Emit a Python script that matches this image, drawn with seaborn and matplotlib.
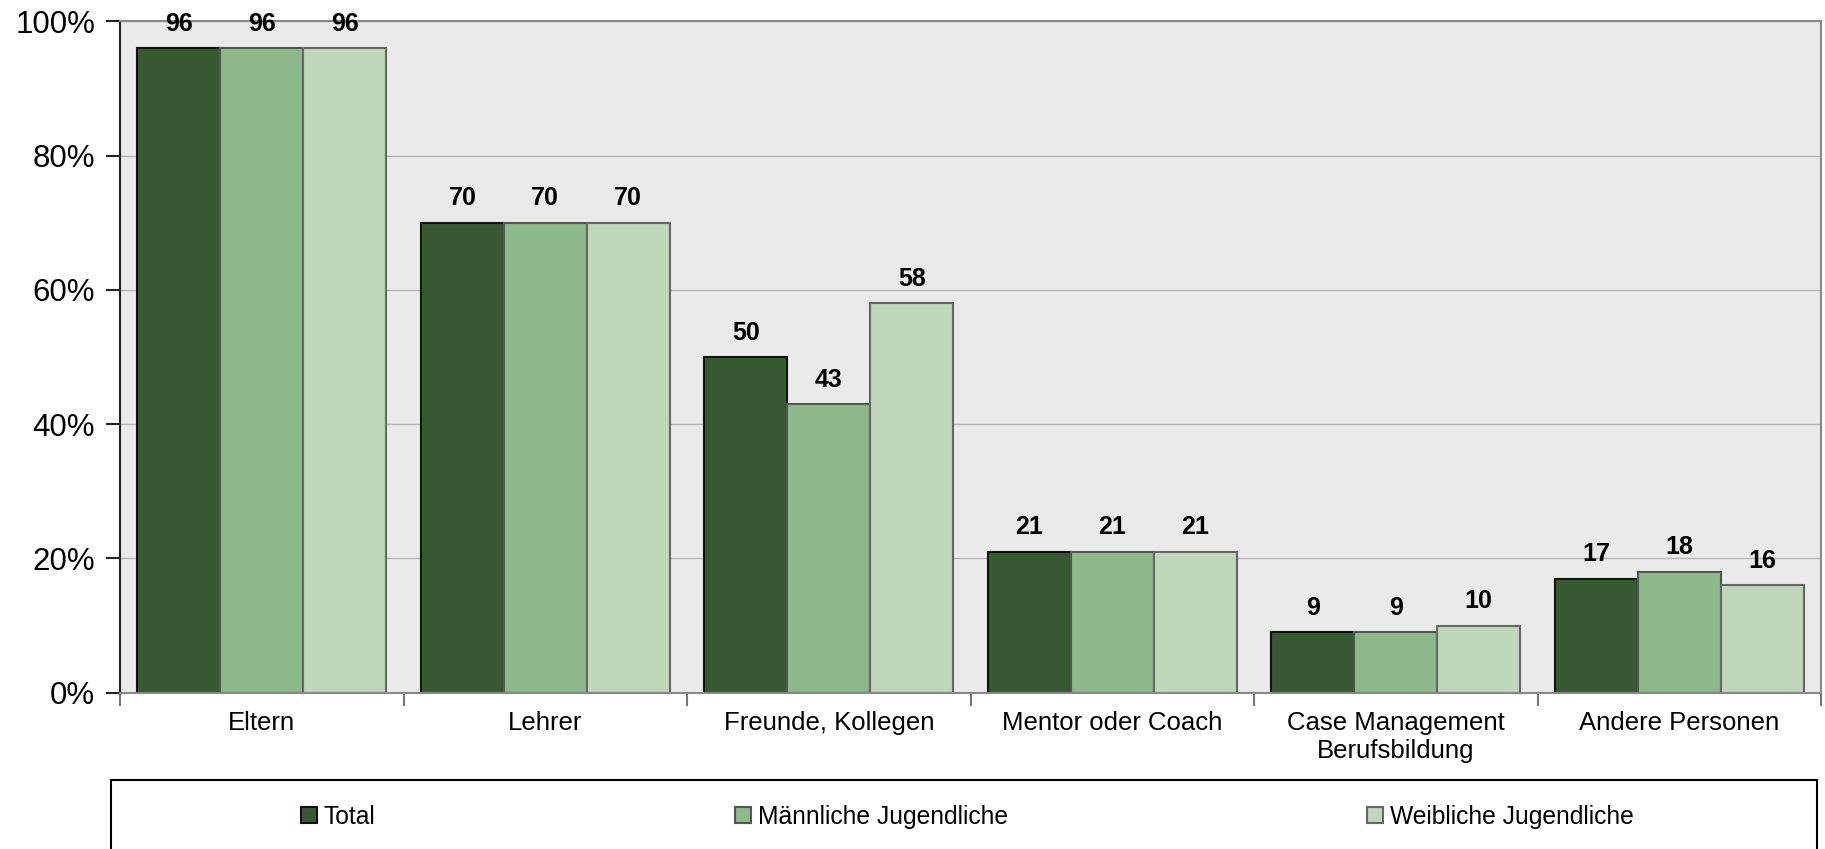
import pandas as pd
import seaborn as sns
import matplotlib.pyplot as plt
from matplotlib.patches import Rectangle
from matplotlib.ticker import FixedLocator

# Daten
kategorien = ['Eltern', 'Lehrer', 'Freunde, Kollegen', 'Mentor oder Coach',
              'Case Management\nBerufsbildung', 'Andere Personen']
gruppen = ['Total', 'Männliche Jugendliche', 'Weibliche Jugendliche']
total = [96, 70, 50, 21, 9, 17]
maennlich = [96, 70, 43, 21, 9, 18]
weiblich = [96, 70, 58, 21, 10, 16]
farben = ['#385a32', '#8db88a', '#bfd6bb']
kanten = ['#111111', '#555555', '#666666']

df = pd.DataFrame({
    'kategorie': kategorien * 3,
    'gruppe': [g for g in gruppen for _ in kategorien],
    'wert': total + maennlich + weiblich,
})

plt.rcParams['font.family'] = ['Liberation Sans', 'DejaVu Sans']

fig = plt.figure(figsize=(18.25, 8.49), dpi=100)
ax = fig.add_axes([0.0658, 0.184, 0.932, 0.791])

sns.barplot(data=df, x='kategorie', y='wert', hue='gruppe', order=kategorien,
            hue_order=gruppen, palette=farben, width=0.878, saturation=1,
            linewidth=1.5, ax=ax, legend=True)

# Kantenfarben pro Gruppe + Beschriftungen
for cont, kante in zip(ax.containers, kanten):
    for bar in cont:
        bar.set_edgecolor(kante)
    ax.bar_label(cont, fmt='%d', padding=9, fontsize=18, fontweight='bold')

ax.set_facecolor('#eaeaea')
ax.set_xlim(-0.5, 5.5)
ax.set_ylim(0, 100)
ax.set_yticks([0, 20, 40, 60, 80, 100])
ax.set_yticklabels([f'{v}%' for v in range(0, 101, 20)], fontsize=22.5)
ax.yaxis.grid(True, color='#b5b5b5', linewidth=1)
ax.set_axisbelow(True)
ax.set_xlabel('')
ax.set_ylabel('')
ax.tick_params(axis='x', which='major', length=0, labelsize=18.5, pad=13)
ax.xaxis.set_minor_locator(FixedLocator([i - 0.5 for i in range(7)]))
ax.tick_params(axis='x', which='minor', length=9, width=1.5, color='#777777')
ax.tick_params(axis='y', length=10, width=1.5, color='#222222', pad=8)

for s in ['top', 'right', 'bottom']:
    ax.spines[s].set_color('#888888')
    ax.spines[s].set_linewidth(1.5)
ax.spines['left'].set_color('#222222')
ax.spines['left'].set_linewidth(1.5)

# Legende unten mit Rahmen
handles, labels = ax.get_legend_handles_labels()
ax.get_legend().remove()
for h, kante in zip(handles, kanten):
    h.set_edgecolor(kante)
fig.legend(handles, labels, loc='center', bbox_to_anchor=(0.530, 0.038),
           ncol=3, frameon=False, fontsize=17.7, columnspacing=14.6,
           handlelength=0.65, handleheight=0.65, handletextpad=0.3)
fig.patches.append(Rectangle((111 / 1825, -0.05), (1817 - 111) / 1825, 0.131,
                             transform=fig.transFigure, fill=False,
                             edgecolor='black', linewidth=1.5))

plt.savefig('out.png', dpi=100)
